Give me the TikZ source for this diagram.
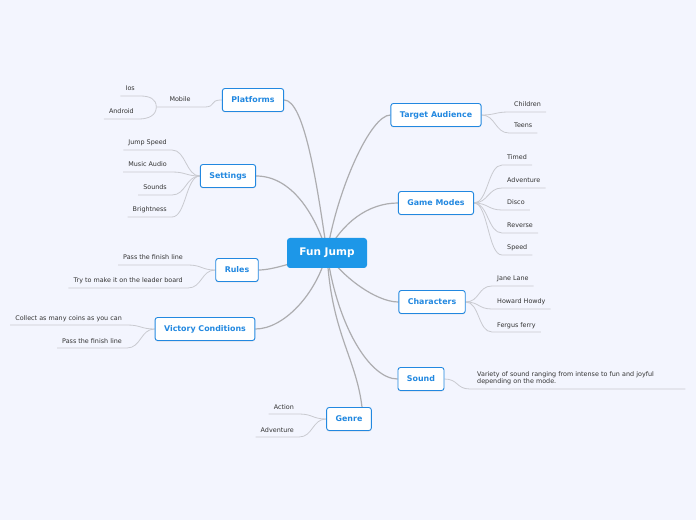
\documentclass[tikz,border=0pt]{standalone}
\usepackage{fontspec}
\setmainfont{DejaVu Sans}
\usetikzlibrary{calc,shadows}
\definecolor{MmBack}{HTML}{F3F5FE}
\definecolor{MmBlue}{HTML}{2288E0}
\definecolor{MmCore}{HTML}{1D97E8}
\definecolor{MmTrunk}{HTML}{ADADB0}
\definecolor{MmTwig}{HTML}{C9CAD0}
\definecolor{MmInk}{HTML}{333333}
\pgfdeclarelayer{back}
\pgfdeclarelayer{links}
\pgfsetlayers{back,links,main}

\begin{document}
\begin{tikzpicture}[x=1pt,y=1pt,
    core/.style={fill=MmCore,rounded corners=3pt,minimum width=80pt,minimum height=30pt,text=white,font=\bfseries\fontsize{10.5}{12}\selectfont},
    topic/.style={draw=MmBlue,line width=0.9pt,fill=white,rounded corners=2.5pt,minimum height=23pt,inner xsep=9pt,text=MmBlue,font=\bfseries\fontsize{7.9}{9}\selectfont,drop shadow={shadow xshift=0pt,shadow yshift=-1pt,opacity=0.2}},
    leaf/.style={text=MmInk,font=\fontsize{6.4}{7.6}\selectfont,inner xsep=5pt,inner ysep=3.5pt,text height=4.7pt,text depth=1.3pt},
    note/.style={text=MmInk,font=\fontsize{6.4}{7}\selectfont,inner xsep=7pt,inner ysep=3.5pt,text width=201pt,align=left},
    trunk/.style={draw=MmTrunk,line width=1.2pt},
    twig/.style={draw=MmTwig,line width=0.8pt}]
    \begin{pgfonlayer}{back}
      \fill[MmBack] (0,0) rectangle (696,520);
    \end{pgfonlayer}
    \node[core] (fj) at (327,267) {Fun Jump};
    \node[topic] (pf) at (253,420) {Platforms};
    \node[topic] (st) at (228,344) {Settings};
    \node[topic] (rl) at (237,250) {Rules};
    \node[topic] (vc) at (205,191) {Victory Conditions};
    \node[topic] (gn) at (349,101) {Genre};
    \node[topic] (ta) at (436,405) {Target Audience};
    \node[topic] (gm) at (436,317) {Game Modes};
    \node[topic] (cr) at (432,218) {Characters};
    \node[topic] (sn) at (421,141) {Sound};
    \node[leaf,anchor=south,inner xsep=13pt] (mb) at (180,413) {Mobile};
    \node[leaf,anchor=south east] (io) at (140,424) {Ios};
    \node[leaf,anchor=south east] (an) at (139,401) {Android};
    \node[leaf,anchor=south east] (js) at (172,370) {Jump Speed};
    \node[leaf,anchor=south east] (ma) at (172,348) {Music Audio};
    \node[leaf,anchor=south east] (sd) at (172,325) {Sounds};
    \node[leaf,anchor=south east] (br) at (172,303) {Brightness};
    \node[leaf,anchor=south east] (pl) at (188,255) {Pass the finish line};
    \node[leaf,anchor=south east] (lb) at (188,232) {Try to make it on the leader board};
    \node[leaf,anchor=south east] (cc) at (127,195) {Collect as many coins as you can};
    \node[leaf,anchor=south east] (pv) at (127,172) {Pass the finish line};
    \node[leaf,anchor=south east] (ac) at (299,106) {Action};
    \node[leaf,anchor=south east] (av) at (299,83) {Adventure};
    \node[leaf,anchor=south west] (ch) at (509,408) {Children};
    \node[leaf,anchor=south west] (tn) at (509,387) {Teens};
    \node[leaf,anchor=south west] (ti) at (502,355) {Timed};
    \node[leaf,anchor=south west] (ad) at (502,332) {Adventure};
    \node[leaf,anchor=south west] (di) at (502,310) {Disco};
    \node[leaf,anchor=south west] (rv) at (502,287) {Reverse};
    \node[leaf,anchor=south west] (sp) at (502,265) {Speed};
    \node[leaf,anchor=south west] (jl) at (492,234) {Jane Lane};
    \node[leaf,anchor=south west] (hh) at (492,211) {Howard Howdy};
    \node[leaf,anchor=south west] (ff) at (492,188) {Fergus ferry};
    \node[note,anchor=south west] (vs) at (470,131) {Variety of sound ranging from intense to fun and joyful\\depending on the mode.};
    \begin{pgfonlayer}{links}
      \draw[trunk] (fj.center) .. controls +(-10,70) and +(20,0) .. (pf.east);
      \draw[trunk] (fj.center) .. controls +(-12,40) and +(35,0) .. (st.east);
      \draw[trunk] (fj.center) .. controls +(-27,-7) and +(16,0) .. (rl.east);
      \draw[trunk] (fj.center) .. controls +(-11,-42) and +(28,0) .. (vc.east);
      \draw[trunk] (fj.center) .. controls +(4,-80) and +(-6,50) .. ($(gn.north)+(13,0)$);
      \draw[trunk] (fj.center) .. controls +(10,63) and +(-20,0) .. (ta.west);
      \draw[trunk] (fj.center) .. controls +(15,30) and +(-30,0) .. (gm.west);
      \draw[trunk] (fj.center) .. controls +(13,-22) and +(-23,0) .. (cr.west);
      \draw[trunk] (fj.center) .. controls +(10,-72) and +(-28,0) .. (sn.west);
      \foreach \p/\l in {pf/mb,st/js,st/ma,st/sd,st/br,rl/pl,rl/lb,vc/cc,vc/pv,gn/ac,gn/av}{\draw[twig] (\p.west) .. controls +(-14,0) and +(14,0) .. (\l.south east) -- (\l.south west);}
      \foreach \p/\l in {ta/ch,ta/tn,gm/ti,gm/ad,gm/di,gm/rv,gm/sp,cr/jl,cr/hh,cr/ff,sn/vs}{\draw[twig] (\p.east) .. controls +(14,0) and +(-14,0) .. (\l.south west) -- (\l.south east);}
      \draw[twig] (mb.south west) .. controls +(0,8) and +(10,0) .. (io.south east) -- (io.south west);
      \draw[twig] (mb.south west) .. controls +(0,-8) and +(10,0) .. (an.south east) -- (an.south west);
    \end{pgfonlayer}
  \end{tikzpicture}
\end{document}
